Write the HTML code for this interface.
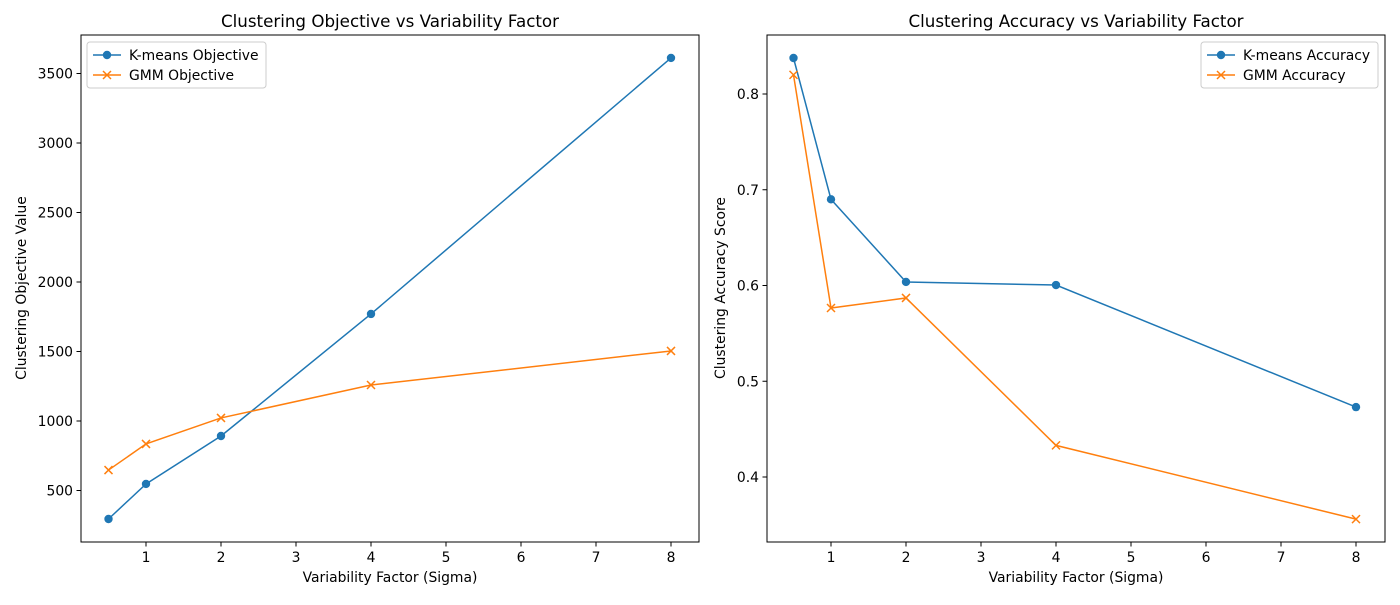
<!DOCTYPE html>
<html><head><meta charset="utf-8"><style>
body{margin:0;background:#fff;font-family:"Liberation Sans","DejaVu Sans",sans-serif;}
svg text{font-family:"DejaVu Sans","Liberation Sans",sans-serif;}
</style></head><body>
<svg id="c" width="1400" height="600"></svg>
<script>
const xValues=[0.5,1,2,4,8];
const kmeansObjective=[295,547,892,1770,3612];
const gmmObjective=[647,835,1022,1259,1504];
const kmeansAccuracy=[0.8376,0.690,0.6037,0.6005,0.473];
const gmmAccuracy=[0.820,0.5765,0.587,0.433,0.356];
const xTicks=[1,2,3,4,5,6,7,8];
const objTicks=[500,1000,1500,2000,2500,3000,3500];
const accTicks=[0.4,0.5,0.6,0.7,0.8];

const NS="http://www.w3.org/2000/svg";
const svg=document.getElementById('c');
function el(t,a,p){const e=document.createElementNS(NS,t);for(const k in a)e.setAttribute(k,a[k]);(p||svg).appendChild(e);return e;}

function panel(o){
  const g=el('g',{});
  
  
  const x=v=>o.x0+(v-o.xmin)*75;
  const y=v=>o.y0-(v-o.ymin)*o.ys;
  el('rect',{x:o.L,y:35,width:618,height:507,fill:'none',stroke:'#000','stroke-width':1},g);
  xTicks.forEach(t=>{const px=x(t);
    el('line',{x1:px,x2:px,y1:542,y2:546.5,stroke:'#000'},g);
    const tx=el('text',{x:px,y:562,'font-size':13.9,'text-anchor':'middle'},g);tx.textContent=t;
    });
  o.yt.forEach(t=>{const py=y(t);
    el('line',{x1:o.L,x2:o.L-4.5,y1:py,y2:py,stroke:'#000'},g);
    const tx=el('text',{x:o.L-8,y:py+5,'font-size':13.9,'text-anchor':'end'},g);tx.textContent=o.fmt(t);
    });
  const tt=el('text',{x:o.L+309,y:27,'font-size':16.7,'text-anchor':'middle'},g);tt.textContent=o.title;
  
  const xl=el('text',{x:o.L+309,y:582,'font-size':13.9,'text-anchor':'middle'},g);xl.textContent='Variability Factor (Sigma)';
  
  const yl=el('text',{x:0,y:0,'font-size':13.9,'text-anchor':'middle',transform:`translate(${o.L-o.yOff},288) rotate(-90)`},g);yl.textContent=o.ylabel;
  
  [[o.s1,'#1f77b4','o'],[o.s2,'#ff7f0e','x']].forEach(([s,c,m])=>{
    const l=el('polyline',{points:s.map((v,i)=>x(xValues[i])+','+y(v)).join(' '),fill:'none',stroke:c,'stroke-width':1.5},g);
    
    s.forEach((v,i)=>{const px=x(xValues[i]),py=y(v);
      if(m==='o'){const p=el('circle',{cx:px,cy:py,r:4.2,fill:c},g);}
      else{const p=el('path',{d:`M${px-4},${py-4}L${px+4},${py+4}M${px-4},${py+4}L${px+4},${py-4}`,stroke:c,'stroke-width':1.5},g);}
    });
  });
  const lx=o.legX,ly=42,lw=o.legW;
  const lg=el('g',{},g);
  el('rect',{x:lx,y:ly,width:lw,height:46,rx:3,fill:'#fff',stroke:'#ccc'},lg);
  [[o.l1,'#1f77b4','o',55],[o.l2,'#ff7f0e','x',75]].forEach(([t,c,m,yy])=>{
    el('line',{x1:lx+6,x2:lx+34,y1:yy,y2:yy,stroke:c,'stroke-width':1.5},lg);
    if(m==='o')el('circle',{cx:lx+20,cy:yy,r:4.2,fill:c},lg);
    else el('path',{d:`M${lx+16},${yy-4}L${lx+24},${yy+4}M${lx+16},${yy+4}L${lx+24},${yy-4}`,stroke:c,'stroke-width':1.5},lg);
    const tx=el('text',{x:lx+42,y:yy+5,'font-size':13.9},lg);tx.textContent=t;
    
  });
}
panel({name:'objective-panel',L:81,x0:71,xmin:0,y0:560,ymin:0,ys:69.5/500,yt:objTicks,fmt:t=>t,yOff:55,
  title:'Clustering Objective vs Variability Factor',ylabel:'Clustering Objective Value',
  s1:kmeansObjective,s2:gmmObjective,l1:'K-means Objective',l2:'GMM Objective',legX:87,legW:179});
panel({name:'accuracy-panel',L:767,x0:756,xmin:0,y0:94,ymin:0.8,ys:957.5,yt:accTicks,fmt:t=>t.toFixed(1),yOff:42,
  title:'Clustering Accuracy vs Variability Factor',ylabel:'Clustering Accuracy Score',
  s1:kmeansAccuracy,s2:gmmAccuracy,l1:'K-means Accuracy',l2:'GMM Accuracy',legX:1201,legW:177});
</script>
</body></html>
